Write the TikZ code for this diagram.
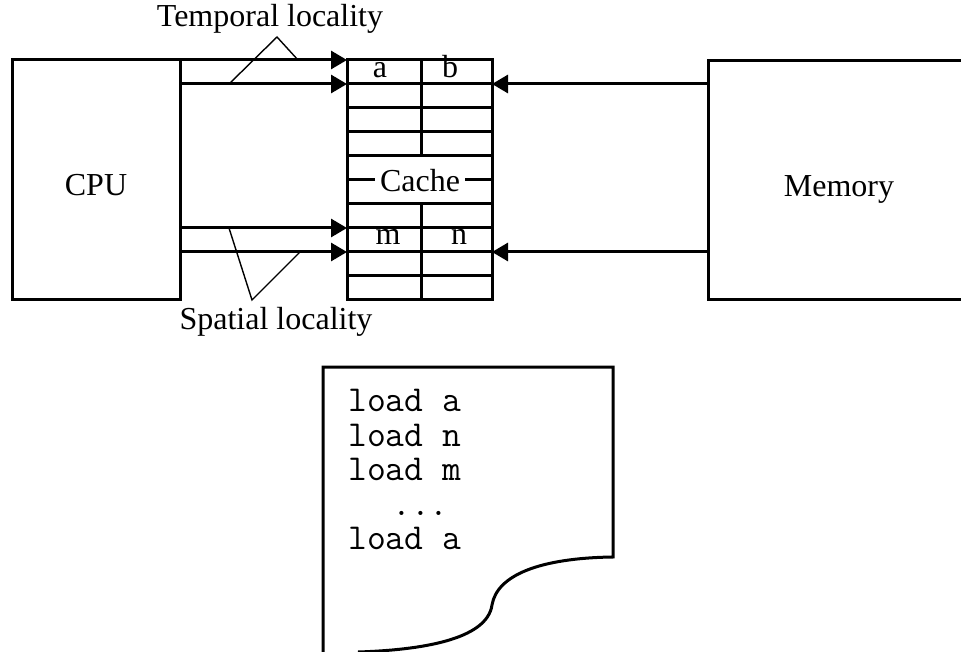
\documentclass[tikz,border=0pt]{standalone}
\usepackage{fontspec}
\setmainfont{Liberation Serif}
\usetikzlibrary{arrows.meta}
\begin{document}
\begin{tikzpicture}[x=1pt,y=-1pt,
  thick line/.style={line width=3pt},
  thin line/.style={line width=1.4pt},
  flow/.style={thick line,-{Triangle[length=16pt,width=18pt]}},
  lab/.style={font=\fontsize{32}{32}\selectfont,inner sep=0pt,anchor=base},
  cell/.style={font=\fontsize{32}{32}\selectfont,inner sep=0pt,anchor=base},
  code/.style={font=\ttfamily\fontsize{36.5}{34.5}\selectfont,inner sep=0pt,align=left,anchor=north west}
]
\useasboundingbox (0,0) rectangle (961,652);
% CPU box
\node[thick line,draw,minimum width=168pt,minimum height=240pt,inner sep=0pt] (cpu) at (96,180) {};
\node[lab] (cputxt) at (96,196) {CPU};
% Cache box
\node[thick line,draw,minimum width=145pt,minimum height=240pt,inner sep=0pt] (cache) at (419.5,180) {};
\foreach \yy in {84,108,132,156,204,228,252,276}
  \draw[thick line] (347,\yy) -- (492,\yy);
\draw[thick line] (421,60) -- (421,156);
\draw[thick line] (421,204) -- (421,300);
\draw[thick line] (347,180) -- (375,180);
\draw[thick line] (465,180) -- (492,180);
\node[lab] (cachetxt) at (420,192) {Cache};
\node[cell] (ca) at (380,78) {a};
\node[cell] (cb) at (450,78) {b};
\node[cell] (cm) at (388,245) {m};
\node[cell] (cn) at (459,245) {n};
% Memory box (open to the right)
\draw[thick line] (961,61) -- (708,61) -- (708,300) -- (961,300);
\node[lab] (memtxt) at (839,197) {Memory};
% connector end points
\coordinate (c1) at (180,60);
\coordinate (c2) at (180,84);
\coordinate (c3) at (180,228);
\coordinate (c4) at (180,252);
\coordinate (k1) at (347,60);
\coordinate (k2) at (347,84);
\coordinate (k3) at (347,228);
\coordinate (k4) at (347,252);
\coordinate (r2) at (492,84);
\coordinate (r4) at (492,252);
\coordinate (m2) at (708,84);
\coordinate (m4) at (708,252);
\draw[flow] (c1) -- (k1);
\draw[flow] (c2) -- (k2);
\draw[flow] (c3) -- (k3);
\draw[flow] (c4) -- (k4);
\draw[flow] (m2) -- (r2);
\draw[flow] (m4) -- (r4);
% locality labels
\node[lab] (temporal) at (270,27) {Temporal locality};
\coordinate (tapex) at (277,37);
\draw[thin line] (298,60) -- (tapex) -- (229,84);
\node[lab] (spatial) at (276,329) {Spatial locality};
\coordinate (sapex) at (252,300);
\draw[thin line] (229,228) -- (sapex) -- (300,252);
% document
\draw[thick line] (323,653) -- (323,367) -- (613,367) -- (613,557)
  .. controls (540,558) and (497,575) .. (492,605)
  .. controls (487,640) and (420,650) .. (358,652);
\node[code] (prog) at (348,389) {load a\\load n\\load m\\\hspace*{44pt}...\\load a};
\end{tikzpicture}
\end{document}
